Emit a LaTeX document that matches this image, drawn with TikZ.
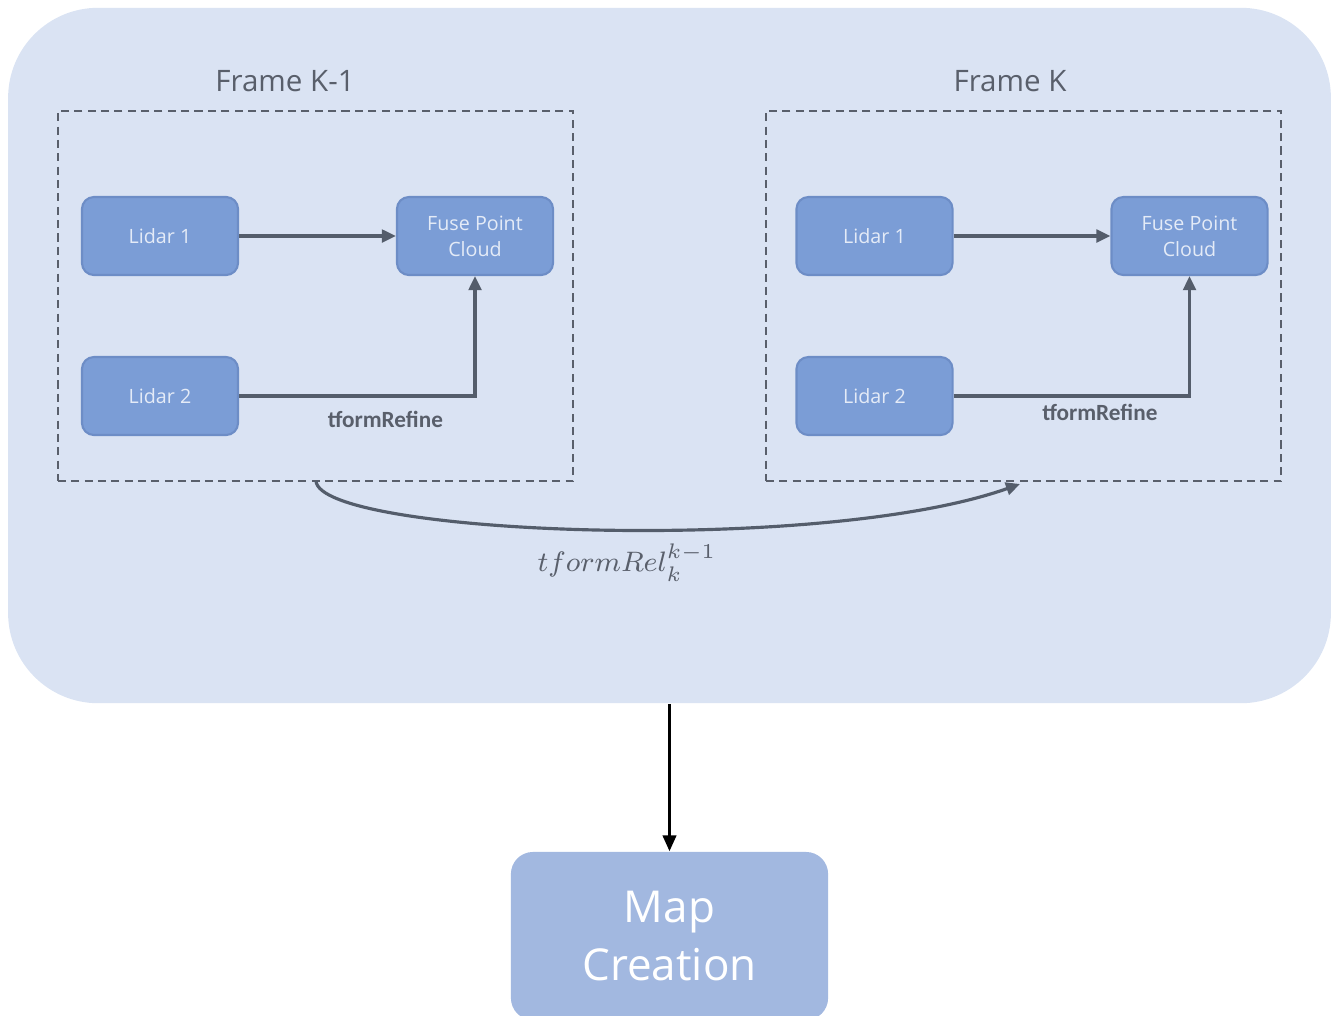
\documentclass[tikz,border=0pt]{standalone}
\usepackage{fontspec}
\setmainfont{Open Sans}
\newfontfamily\calfont{Carlito}
\usetikzlibrary{arrows.meta,positioning}

\definecolor{panelfill}{HTML}{DAE3F3}
\definecolor{boxfill}{HTML}{7B9DD6}
\definecolor{boxline}{HTML}{6D8DC6}
\definecolor{boxtext}{HTML}{E4EBF7}
\definecolor{mapfill}{HTML}{A2B8E0}
\definecolor{linkcol}{HTML}{545D6B}
\definecolor{labelcol}{HTML}{595F6B}

\tikzset{
  panel/.style={fill=panelfill, rounded corners=0.9cm, minimum width=13.22cm, minimum height=6.95cm, inner sep=0pt},
  framebox/.style={draw=labelcol, line width=0.6pt, dash pattern=on 2.3pt off 1.5pt, minimum width=5.15cm, minimum height=3.7cm, inner sep=0pt},
  sensor/.style={fill=boxfill, draw=boxline, line width=0.6pt, rounded corners=0.12cm, minimum width=1.56cm, minimum height=0.78cm,
    text=boxtext, font=\fontsize{5.6}{7.4}\selectfont, align=center, inner sep=0pt},
  link/.style={draw=linkcol, line width=0.9pt, -{Triangle[length=4pt, width=3.6pt]}},
  refine/.style={font=\calfont\bfseries\fontsize{6.6}{8}\selectfont, text=labelcol, inner sep=1pt},
  frametitle/.style={font=\fontsize{8.4}{10}\selectfont, text=labelcol},
}

\begin{document}
\begin{tikzpicture}[x=0.01cm, y=-0.01cm]
  \useasboundingbox (0,0) rectangle (1331,1015);
  % ------------------------------------------------------------------ background panel
  \node[panel] (panel) at (669.5,355.5) {};
  % ------------------------------------------------------------------ frame K-1
  \node[framebox] (frameA) at (315.5,296) {};
  \node[frametitle] (titleA) at (285,81) {Frame K-1};
  \node[sensor] (lidarOneA) at (160,236) {Lidar 1};
  \node[sensor] (lidarTwoA) at (160,396) {Lidar 2};
  \node[sensor] (fuseA) at (475,236) {Fuse Point\\Cloud};
  \draw[link] (lidarOneA) -- (fuseA);
  \draw[link] (lidarTwoA.east) -| node[refine, pos=0.31, below=3pt] {tformRefine} (fuseA.south);
  % ------------------------------------------------------------------ frame K
  \node[framebox] (frameB) at (1023.5,296) {};
  \node[frametitle] (titleB) at (1010,81) {Frame K};
  \node[sensor] (lidarOneB) at (874.5,236) {Lidar 1};
  \node[sensor] (lidarTwoB) at (874.5,396) {Lidar 2};
  \node[sensor] (fuseB) at (1189.5,236) {Fuse Point\\Cloud};
  \draw[link] (lidarOneB) -- (fuseB);
  \draw[link] (lidarTwoB.east) -| node[refine, pos=0.31, below=1pt] {tformRefine} (fuseB.south);
  % ------------------------------------------------------------------ relative transform
  \coordinate (relFrom) at (316,481);
  \coordinate (relTo) at (1020,484);
  \draw[link] (relFrom) .. controls (320,535) and (820,555) .. (relTo);
  \node[text=labelcol, font=\fontsize{8.4}{10}\selectfont] (relLabel) at (627,563) {$tformRel_k^{k-1}$};
  % ------------------------------------------------------------------ map creation
  \node[fill=mapfill, rounded corners=0.22cm, minimum width=3.17cm, minimum height=1.68cm, text=white,
    font=\fontsize{12.5}{16.5}\selectfont, align=center] (map) at (669.5,936) {Map\\Creation};
  \draw[line width=0.8pt, -{Triangle[length=4.5pt, width=3.8pt]}] (panel.south) -- (map.north);
\end{tikzpicture}
\end{document}
